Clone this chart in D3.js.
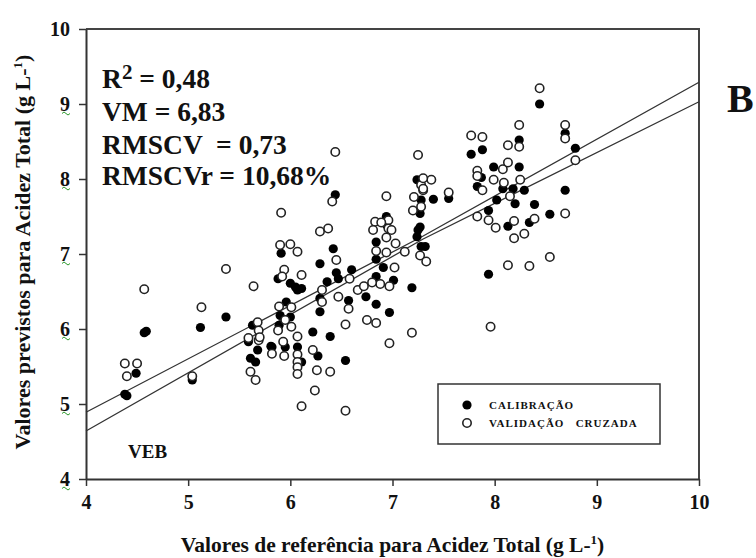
<!DOCTYPE html>
<html>
<head>
<meta charset="utf-8">
<script src="https://cdn.jsdelivr.net/npm/d3@7"></script>
<style>
body{margin:0;background:#fff}
svg{display:block}
text{font-family:"Liberation Serif","Times New Roman",serif;font-weight:bold;fill:#111;white-space:pre}
</style>
</head>
<body>
<div id="chart"></div>
<script>
// calibracao (pontos cheios)
var calX = [4.38,4.40,4.49,4.57,4.59,5.04,5.12,5.37,5.63,5.59,5.68,5.61,5.66,5.82,5.91,5.88,6.00,6.05,6.11,6.07,
	5.96,5.90,6.00,5.89,5.95,6.07,6.11,5.81,6.44,6.42,6.29,6.45,6.60,6.36,6.47,6.29,6.57,6.74,6.84,6.97,
	6.29,6.22,6.39,6.54,6.27,6.94,6.84,6.84,6.91,6.84,7.01,7.19,7.28,7.25,7.24,7.28,7.40,7.55,7.27,7.27,
	7.32,7.24,8.44,7.77,7.88,8.24,7.99,8.24,7.87,7.83,8.08,8.18,8.29,8.02,8.20,8.39,8.54,8.69,8.69,7.94,
	8.13,8.34,7.94,8.79,6.94];
var calY = [5.13,5.11,5.41,5.95,5.97,5.32,6.02,6.16,6.05,5.83,5.72,5.61,5.56,5.76,7.01,6.67,6.61,6.56,6.54,6.52,
	6.36,6.18,6.16,6.05,5.76,5.76,5.56,5.77,7.79,7.07,6.87,6.75,6.79,6.63,6.67,6.41,6.38,6.43,6.33,6.22,
	6.23,5.96,5.90,5.58,5.64,7.50,7.16,6.93,6.82,6.70,6.65,6.55,7.10,7.32,7.23,7.72,7.73,7.74,7.54,7.36,
	7.10,7.99,9.00,8.33,8.39,8.52,8.16,8.16,8.02,7.90,7.87,7.87,7.85,7.72,7.67,7.66,7.53,7.85,8.61,7.58,
	7.37,7.42,6.73,8.41,7.39];

// validacao cruzada (pontos vazios)
var valX = [4.38,4.50,4.40,4.57,5.04,5.13,5.37,5.64,5.68,5.69,5.59,5.69,5.82,5.61,5.66,5.70,5.91,6.29,6.37,5.90,
	6.00,6.07,6.45,5.94,6.11,5.92,6.31,6.58,6.47,6.31,6.57,6.66,6.72,6.75,6.84,6.54,6.26,6.39,6.24,6.11,
	6.54,6.22,5.89,6.01,5.95,6.01,5.88,6.07,5.93,5.94,6.07,6.07,6.07,6.07,6.41,6.94,6.44,6.83,6.96,6.81,
	6.96,6.94,7.03,6.84,6.94,7.02,6.88,6.97,7.19,6.97,7.12,7.27,7.33,7.20,7.28,7.28,7.30,7.21,7.25,8.44,
	8.24,7.77,7.88,8.13,8.24,8.08,8.13,7.83,7.83,7.88,7.99,8.09,8.25,8.15,8.69,8.69,8.69,7.83,7.94,8.01,
	8.19,8.39,8.19,8.29,8.13,8.34,8.54,7.96,7.38,7.30,7.30,7.55,8.79,6.89,6.99,6.80];
var valY = [5.54,5.54,5.37,6.53,5.37,6.29,6.80,6.57,6.09,5.98,5.88,5.85,5.67,5.43,5.32,5.89,7.55,7.30,7.34,7.12,
	7.13,7.03,6.92,6.79,6.72,6.70,6.52,6.67,6.43,6.36,6.27,6.52,6.57,6.12,6.08,6.06,5.45,5.43,5.18,4.97,
	4.91,5.72,6.30,6.29,6.12,6.03,5.98,5.90,5.83,5.64,5.66,5.56,5.49,5.40,7.70,7.77,8.36,7.43,7.45,7.32,
	7.34,7.22,7.14,7.04,7.02,6.82,6.60,6.57,5.95,5.81,7.03,6.98,6.90,7.58,7.63,7.92,7.85,7.76,8.32,9.21,
	8.72,8.58,8.56,8.45,8.43,8.13,8.22,8.11,8.04,7.85,7.99,7.95,7.99,7.77,7.54,8.72,8.54,7.50,7.45,7.35,
	7.44,7.47,7.21,7.27,6.85,6.84,6.96,6.03,7.99,8.01,7.87,7.82,8.25,7.42,7.32,6.62];

// retas de regressao
var upperLineX = [4, 7.3, 10], upperLineY = [4.89, 7.24, 9.29];
var lowerLineX = [4, 7.3, 10], lowerLineY = [4.64, 7.20, 9.03];

var xTicks = [4,5,6,7,8,9,10];
var yTicks = [4,5,6,7,8,9,10];
var statLines = ["VM = 6,83", "RMSCV  = 0,73", "RMSCVr = 10,68%"];
var legendLabels = ["CALIBRAÇÃO", "VALIDAÇÃO   CRUZADA"];

var w = 756, h = 558;
var margin = {top: 29, right: 57, bottom: 79, left: 86},
    width = w - margin.left - margin.right,
    height = h - margin.top - margin.bottom;

var svg = d3.select("#chart").append("svg").attr("width", w).attr("height", h);
var g = svg.append("g").attr("transform", "translate(" + margin.left + "," + margin.top + ")");

var x = d3.scaleLinear().domain([4, 10]).range([0, width]),
    y = d3.scaleLinear().domain([4, 10]).range([height, 0]);

// moldura (topo e direita)
g.append("path")
	.attr("d", "M0,0H" + width + "V" + height)
	.attr("fill", "none")
	.attr("stroke", "#444")
	.attr("stroke-width", 2);

var xAxis = g.append("g")
	.attr("transform", "translate(0," + height + ")")
	.call(d3.axisBottom(x).tickValues(xTicks).tickSize(7).tickSizeOuter(0).tickPadding(9).tickFormat(d3.format("d")));
var yAxis = g.append("g")
	.call(d3.axisLeft(y).tickValues(yTicks).tickSize(7).tickSizeOuter(0).tickPadding(9).tickFormat(d3.format("d")));

[xAxis, yAxis].forEach(function(a){
	a.select(".domain").attr("stroke", "#333").attr("stroke-width", 2);
	a.selectAll(".tick line").attr("stroke", "#333").attr("stroke-width", 1.5);
	a.selectAll(".tick text")
		.attr("font-family", "Liberation Serif, Times New Roman, serif")
		.attr("font-weight", "bold")
		.attr("font-size", 20)
		.attr("fill", "#111");
});

// rabiscos verdes sob os numeros do eixo y
yAxis.selectAll(".tick").filter(function(d){ return d < 10; })
	.append("path")
	.attr("d", "M-24,9 q2,-3 4,0 t4,0")
	.attr("fill", "none")
	.attr("stroke", "#2e9a2e")
	.attr("stroke-width", 1);

var line = d3.line()
	.x(function(d){ return x(d[0]); })
	.y(function(d){ return y(d[1]); });

[[upperLineX, upperLineY], [lowerLineX, lowerLineY]].forEach(function(l){
	g.append("path")
		.datum(d3.zip(l[0], l[1]))
		.attr("fill", "none")
		.attr("stroke", "#333")
		.attr("stroke-width", 1.3)
		.attr("d", line);
});

g.selectAll(".cal")
	.data(d3.zip(calX, calY))
	.enter().append("circle")
	.attr("class", "cal")
	.attr("cx", function(d){ return x(d[0]); })
	.attr("cy", function(d){ return y(d[1]); })
	.attr("r", 4.6)
	.attr("fill", "#000");

g.selectAll(".val")
	.data(d3.zip(valX, valY))
	.enter().append("circle")
	.attr("class", "val")
	.attr("cx", function(d){ return x(d[0]); })
	.attr("cy", function(d){ return y(d[1]); })
	.attr("r", 4.2)
	.attr("fill", "#fff")
	.attr("stroke", "#222")
	.attr("stroke-width", 1.6);

// estatisticas
var r2 = svg.append("text").attr("x", 102).attr("y", 88).attr("font-size", 27.5);
r2.append("tspan").text("R");
r2.append("tspan").attr("font-size", 21).attr("dy", -9).text("2");
r2.append("tspan").attr("dy", 9).text(" = 0,48");

svg.selectAll(".stat")
	.data(statLines)
	.enter().append("text")
	.attr("class", "stat")
	.attr("x", 102)
	.attr("y", function(d, i){ return [121, 154, 185][i]; })
	.attr("font-size", 27.5)
	.text(function(d){ return d; });

svg.append("text").attr("x", 727).attr("y", 112).attr("font-size", 40).text("B");
svg.append("text").attr("x", 128).attr("y", 458).attr("font-size", 19).text("VEB");

// titulos dos eixos
var xt = svg.append("text")
	.attr("x", margin.left + width / 2)
	.attr("y", 552)
	.attr("text-anchor", "middle")
	.attr("font-size", 21.5);
xt.append("tspan").text("Valores de referência para Acidez Total (g L-");
xt.append("tspan").attr("font-size", 13).attr("dy", -8).text("1");
xt.append("tspan").attr("dy", 8).text(")");

var yt = svg.append("text")
	.attr("transform", "translate(30," + (margin.top + height / 2 - 2) + ") rotate(-90)")
	.attr("text-anchor", "middle")
	.attr("font-size", 22);
yt.append("tspan").text("Valores previstos para Acidez Total (g L-");
yt.append("tspan").attr("font-size", 13).attr("dy", -8).text("1");
yt.append("tspan").attr("dy", 8).text(")");

// legenda
var leg = svg.append("g").attr("transform", "translate(438,384)");
leg.append("rect")
	.attr("width", 222).attr("height", 60)
	.attr("fill", "#fff")
	.attr("stroke", "#333")
	.attr("stroke-width", 1.5);
leg.selectAll(".legItem")
	.data(legendLabels)
	.enter().append("circle")
	.attr("cx", 29)
	.attr("cy", function(d, i){ return 21 + i * 18; })
	.attr("r", function(d, i){ return i ? 4.2 : 4.6; })
	.attr("fill", function(d, i){ return i ? "#fff" : "#000"; })
	.attr("stroke", function(d, i){ return i ? "#222" : "none"; })
	.attr("stroke-width", 1.6);
leg.selectAll(".legText")
	.data(legendLabels)
	.enter().append("text")
	.attr("x", 51)
	.attr("y", function(d, i){ return 25 + i * 18; })
	.attr("font-size", 11)
	.attr("letter-spacing", 1)
	.text(function(d){ return d; });
</script>
</body>
</html>
